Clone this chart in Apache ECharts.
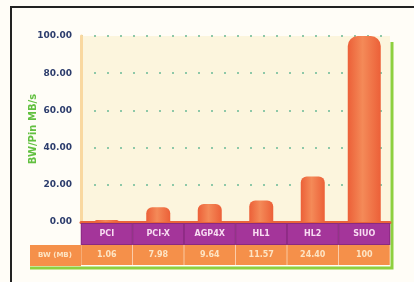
<!DOCTYPE html>
<html>
<head>
<meta charset="utf-8">
<script src="https://cdn.jsdelivr.net/npm/echarts@6/dist/echarts.min.js"></script>
<style>
  html, body { margin: 0; padding: 0; background: #fff; }
  #chart { width: 414px; height: 282px; }
</style>
</head>
<body>
<div id="chart"></div>
<script>
  // 数据
  var categories = ['PCI', 'PCI-X', 'AGP4X', 'HL1', 'HL2', 'SIUO']
  var bwValues = [1.06, 7.98, 9.64, 11.57, 24.40, 100]
  var bwLabels = ['1.06', '7.98', '9.64', '11.57', '24.40', '100']
  var rowTitle = 'BW (MB)'

  // 前五个柱子窄一点，最后一个宽
  var narrowData = bwValues.map(function (v, i) { return i < 5 ? v : '-' })
  var wideData = bwValues.map(function (v, i) { return i === 5 ? v : '-' })

  var barColor = {
    type: 'linear', x: 0, y: 0, x2: 1, y2: 0,
    colorStops: [
      { offset: 0, color: '#ec6038' },
      { offset: 0.45, color: '#f48a58' },
      { offset: 1, color: '#ec6038' }
    ]
  }

  var chart = echarts.init(document.getElementById('chart'))
  chart.setOption({
    backgroundColor: '#fffdf7',
    animation: false,
    grid: {
      left: 81, right: 24, top: 36, bottom: 60,
      show: true,
      backgroundColor: '#fcf5dd',
      borderWidth: 0
    },
    xAxis: [{
      type: 'category',
      data: categories,
      position: 'bottom',
      axisLine: { lineStyle: { color: '#e8643a', width: 3 } },
      axisTick: { show: false },
      axisLabel: {
        interval: 0,
        margin: 2,
        width: 50,
        height: 20,
        lineHeight: 20,
        align: 'center',
        verticalAlign: 'top',
        color: '#f8dcf2',
        fontSize: 8,
        fontWeight: 'bold',
        fontFamily: 'DejaVu Sans',
        backgroundColor: '#a4359a',
        borderColor: '#8a2a80',
        borderWidth: 1
      }
    }, {
      type: 'category',
      data: categories,
      position: 'bottom',
      offset: 21,
      axisLine: { show: false },
      axisTick: { show: false },
      axisLabel: {
        interval: 0,
        margin: 2,
        width: 51,
        height: 20,
        lineHeight: 20,
        align: 'center',
        verticalAlign: 'top',
        color: '#fde4c4',
        fontSize: 8,
        fontWeight: 'bold',
        fontFamily: 'DejaVu Sans',
        backgroundColor: '#f5904a',
        formatter: function (val, idx) { return bwLabels[idx] }
      }
    }],
    yAxis: {
      type: 'value',
      min: 0,
      max: 100,
      interval: 20,
      name: 'BW/Pin MB/s',
      nameLocation: 'middle',
      nameRotate: 90,
      nameGap: 43,
      nameMoveOverlap: false,
      nameTextStyle: { color: '#62c040', fontSize: 10, fontWeight: 'bold', fontFamily: 'DejaVu Sans' },
      axisLine: { show: true, lineStyle: { color: '#f9d8a0', width: 3 } },
      axisTick: { show: false },
      axisLabel: {
        margin: 9,
        color: '#2c3c6c',
        fontSize: 9,
        fontWeight: 'bold',
        fontFamily: 'DejaVu Sans',
        formatter: function (v) { return v.toFixed(2) }
      },
      splitLine: { lineStyle: { color: '#8ec8a8', width: 2, type: [2, 11] } }
    },
    series: [{
      type: 'bar',
      xAxisIndex: 0,
      data: narrowData,
      barWidth: 24,
      itemStyle: { color: barColor, borderRadius: [6, 6, 0, 0] }
    }, {
      type: 'bar',
      xAxisIndex: 1,
      data: wideData,
      barWidth: 33,
      itemStyle: { color: barColor, borderRadius: [10, 10, 0, 0] }
    }],
    graphic: [
      // 表格行标题
      { type: 'rect', shape: { x: 30, y: 245, width: 51, height: 21 }, style: { fill: '#f5904a' } },
      { type: 'text', x: 55, y: 255, style: { text: rowTitle, fill: '#fde4c4', fontSize: 7, fontWeight: 'bold', fontFamily: 'DejaVu Sans', align: 'center', verticalAlign: 'middle' } },
      // 绿色边框
      { type: 'polyline', shape: { points: [[392, 42], [392, 268], [30, 268]] }, style: { stroke: '#8ed040', lineWidth: 3, fill: null } },
      // 外框
      { type: 'polyline', shape: { points: [[11, 282], [11, 7], [414, 7]] }, style: { stroke: '#222', lineWidth: 2, fill: null } }
    ]
  })
</script>
</body>
</html>
